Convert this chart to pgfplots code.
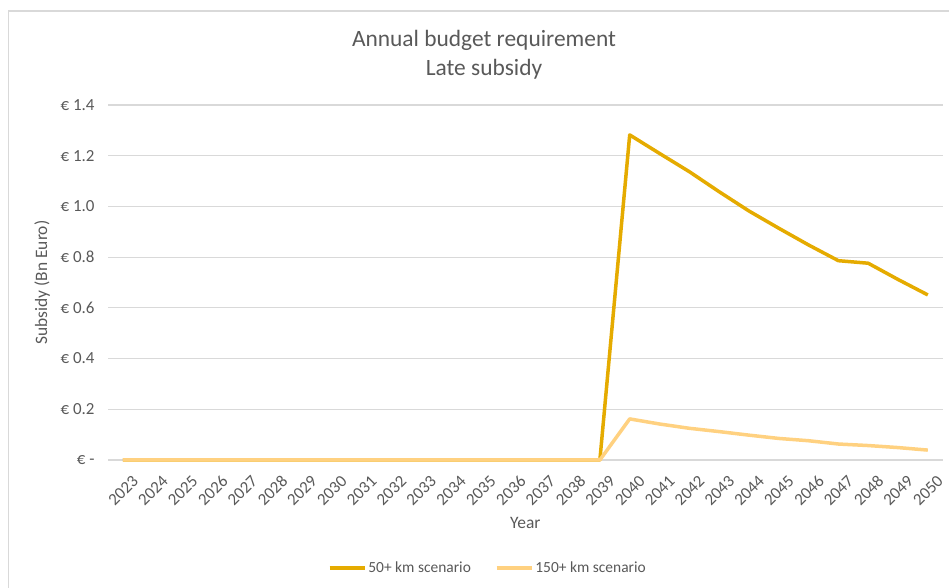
\documentclass[border=0pt]{standalone}
\usepackage{pgfplots}
\pgfplotsset{compat=1.18}
\usepackage{pgfplotstable}
\usepackage{fontspec}
\setmainfont{Carlito}
\definecolor{gold}{RGB}{229,171,0}
\definecolor{lightgold}{RGB}{255,209,128}
\definecolor{txt}{RGB}{89,89,89}
\definecolor{gridc}{RGB}{217,217,217}
\pgfplotstableread{
year fifty onefifty
2023 0 0
2024 0 0
2025 0 0
2026 0 0
2027 0 0
2028 0 0
2029 0 0
2030 0 0
2031 0 0
2032 0 0
2033 0 0
2034 0 0
2035 0 0
2036 0 0
2037 0 0
2038 0 0
2039 0 0
2040 1.282 0.162
2041 1.209 0.142
2042 1.137 0.125
2043 1.058 0.112
2044 0.982 0.098
2045 0.914 0.085
2046 0.848 0.076
2047 0.786 0.063
2048 0.776 0.057
2049 0.712 0.049
2050 0.651 0.039
}\datatable
\begin{document}
\begin{tikzpicture}[x=1bp,y=1bp]
\useasboundingbox (0,0) rectangle (949,588);
\draw[gridc, line width=1.5bp] (8.5,0) -- (8.5,577) -- (949,577);
\node[txt, font=\fontsize{23.5}{29}\selectfont, align=center] at (484,533) {Annual budget requirement\\Late subsidy};
\begin{axis}[
  at={(108bp,128bp)}, anchor=south west,
  scale only axis, width=834.7bp, height=355bp,
  xmin=2022.5, xmax=2050.5, ymin=0, ymax=1.4,
  xtick={2023,...,2050},
  ytick={0,0.2,0.4,0.6,0.8,1.0,1.2,1.4},
  yticklabels={€ -, € 0.2, € 0.4, € 0.6, € 0.8, € 1.0, € 1.2, € 1.4},
  /pgf/number format/1000 sep={},
  /pgf/number format/assume math mode=true,
  axis line style={draw=none},
  major tick length=0pt,
  ymajorgrids, grid style={gridc, line width=1.2bp},
  xticklabel style={txt, font=\fontsize{17}{20}\selectfont, rotate=45, anchor=north east, inner sep=1bp, yshift=-15bp, xshift=-3bp},
  yticklabel style={txt, font=\fontsize{17}{20}\selectfont, xshift=-10bp},
  xlabel={Year}, ylabel={Subsidy (Bn Euro)},
  xlabel style={txt, font=\fontsize{17.5}{20}\selectfont, at={(axis description cs:0.5,-0.178)}, anchor=center},
  ylabel style={txt, font=\fontsize{17.5}{20}\selectfont, at={(axis description cs:-0.079,0.5)}, anchor=center},
  legend style={at={(axis description cs:0.455,-0.304)}, anchor=center, draw=none,
    legend columns=2, font=\fontsize{15.5}{18}\selectfont, text=txt,
    /tikz/every even column/.append style={column sep=22bp}},
  legend image code/.code={\draw[#1, line width=3.5bp] (0bp,0bp) -- (35bp,0bp);},
  clip=false,
]
\addplot[gold, line width=3.5bp, line join=round] table[x=year, y=fifty] {\datatable};
\addlegendentry{50+ km scenario}
\addplot[lightgold, line width=3.5bp, line join=round] table[x=year, y=onefifty] {\datatable};
\addlegendentry{150+ km scenario}
\end{axis}
\end{tikzpicture}
\end{document}
